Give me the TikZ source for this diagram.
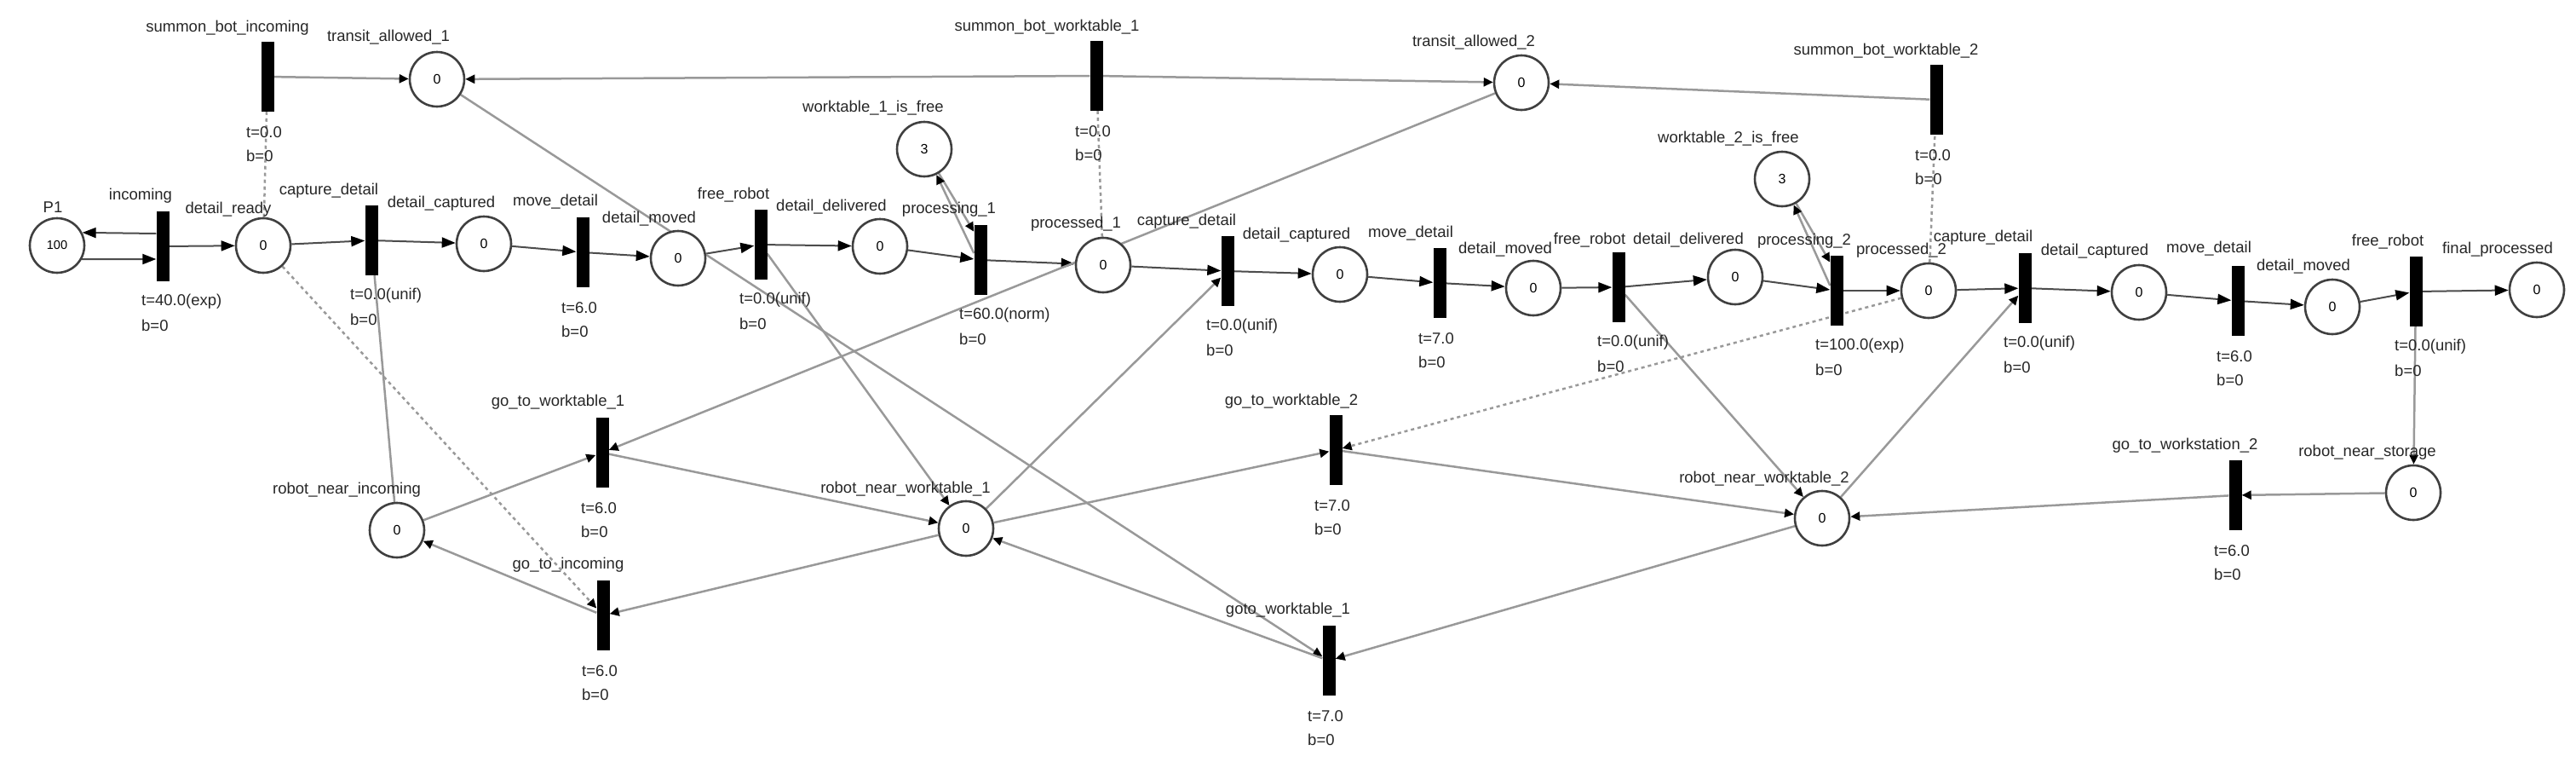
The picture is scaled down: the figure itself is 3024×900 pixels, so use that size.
\documentclass[tikz,border=0pt]{standalone}
\usepackage{fontspec}
\setmainfont{Liberation Sans}
\usetikzlibrary{arrows.meta}
\usetikzlibrary{backgrounds}
\tikzset{place/.style = {circle, draw=black!75, line width=2.6pt, fill=white, minimum size=64pt, inner sep=0, font=\fontsize{16}{16}\selectfont}}
\tikzset{trans/.style = {fill=black, minimum width=15pt, minimum height=82pt, inner sep=0}}
\tikzset{lbl/.style = {font=\fontsize{18.5}{18.5}\selectfont, text=black!85, inner sep=0}}
\tikzset{tinfo/.style = {lbl, anchor=west}}
\tikzset{timing/.style = {label={[tinfo,xshift=-25pt,yshift=-24pt]south:t=#1}, label={[tinfo,xshift=-25pt,yshift=-52pt]south:b=0}}}
\tikzset{chain/.style = {draw=black!70, line width=2pt, -{Triangle[length=16pt,width=12pt,color=black]}}}
\tikzset{arc/.style = {draw=black!40, line width=2.5pt, -{Triangle[length=11pt,width=10pt,color=black]}}}
\tikzset{test/.style = {draw=black!40, line width=2.5pt, dash pattern=on 4pt off 4pt}}
\begin{document}
\begin{tikzpicture}[x=1pt,y=-1pt]
    \useasboundingbox (0,0) rectangle (3024,900);
    \node[place, font=\fontsize{14.5}{14.5}\selectfont] (P1) at (67,288) {100};
    \node[lbl] (P1-l) at (62,243) {P1};
    \node[trans, timing=40.0(exp)] (incoming) at (191,289) {};
    \node[lbl] (incoming-l) at (165,230) {incoming};
    \node[place] (ready) at (309,288) {0};
    \node[lbl] (ready-l) at (268,246) {detail\_ready};
    \node[trans, timing=0.0(unif)] (capture1) at (436,282) {};
    \node[lbl] (capture1-l) at (386,224) {capture\_detail};
    \node[place] (captured1) at (568,286) {0};
    \node[lbl] (captured1-l) at (518,239) {detail\_captured};
    \node[trans, timing=6.0] (move1) at (684,296) {};
    \node[lbl] (move1-l) at (652,237) {move\_detail};
    \node[place] (moved1) at (796,303) {0};
    \node[lbl] (moved1-l) at (762,257) {detail\_moved};
    \node[trans, timing=0.0(unif)] (free1) at (893,287) {};
    \node[lbl] (free1-l) at (861,229) {free\_robot};
    \node[place] (delivered1) at (1033,289) {0};
    \node[lbl] (delivered1-l) at (976,243) {detail\_delivered};
    \node[trans, timing=60.0(norm)] (processing1) at (1151,305) {};
    \node[lbl] (processing1-l) at (1114,246) {processing\_1};
    \node[place] (processed1) at (1295,311) {0};
    \node[lbl] (processed1-l) at (1263,263) {processed\_1};
    \node[trans, timing=0.0(unif)] (capture2) at (1441,318) {};
    \node[lbl] (capture2-l) at (1393,260) {capture\_detail};
    \node[place] (captured2) at (1573,322) {0};
    \node[lbl] (captured2-l) at (1522,276) {detail\_captured};
    \node[trans, timing=7.0] (move2) at (1690,332) {};
    \node[lbl] (move2-l) at (1656,274) {move\_detail};
    \node[place] (moved2) at (1800,338) {0};
    \node[lbl] (moved2-l) at (1767,293) {detail\_moved};
    \node[trans, timing=0.0(unif)] (free2) at (1900,337) {};
    \node[lbl] (free2-l) at (1866,282) {free\_robot};
    \node[place] (delivered2) at (2037,325) {0};
    \node[lbl] (delivered2-l) at (1982,282) {detail\_delivered};
    \node[trans, timing=100.0(exp)] (processing2) at (2156,341) {};
    \node[lbl] (processing2-l) at (2118,283) {processing\_2};
    \node[place] (processed2) at (2264,341) {0};
    \node[lbl] (processed2-l) at (2232,294) {processed\_2};
    \node[trans, timing=0.0(unif)] (capture3) at (2377,338) {};
    \node[lbl] (capture3-l) at (2328,279) {capture\_detail};
    \node[place] (captured3) at (2511,343) {0};
    \node[lbl] (captured3-l) at (2459,295) {detail\_captured};
    \node[trans, timing=6.0] (move3) at (2627,353) {};
    \node[lbl] (move3-l) at (2593,292) {move\_detail};
    \node[place] (moved3) at (2738,360) {0};
    \node[lbl] (moved3-l) at (2704,313) {detail\_moved};
    \node[trans, timing=0.0(unif)] (free3) at (2836,342) {};
    \node[lbl] (free3-l) at (2803,284) {free\_robot};
    \node[place] (final) at (2978,340) {0};
    \node[lbl] (final-l) at (2932,293) {final\_processed};
    \node[trans, timing=0.0] (summonIn) at (314,90) {};
    \node[lbl] (summonIn-l) at (267,33) {summon\_bot\_incoming};
    \node[place] (allowed1) at (513,93) {0};
    \node[lbl] (allowed1-l) at (456,44) {transit\_allowed\_1};
    \node[trans, timing=0.0] (summonW1) at (1287,89) {};
    \node[lbl] (summonW1-l) at (1229,32) {summon\_bot\_worktable\_1};
    \node[place] (allowed2) at (1786,97) {0};
    \node[lbl] (allowed2-l) at (1730,50) {transit\_allowed\_2};
    \node[trans, timing=0.0] (summonW2) at (2273,117) {};
    \node[lbl] (summonW2-l) at (2214,60) {summon\_bot\_worktable\_2};
    \node[place] (wt1free) at (1085,175) {3};
    \node[lbl] (wt1free-l) at (1025,127) {worktable\_1\_is\_free};
    \node[place] (wt2free) at (2092,210) {3};
    \node[lbl] (wt2free-l) at (2029,163) {worktable\_2\_is\_free};
    \node[place] (nearIn) at (466,622) {0};
    \node[lbl] (nearIn-l) at (407,575) {robot\_near\_incoming};
    \node[trans, timing=6.0] (toW1) at (707,531) {};
    \node[lbl] (toW1-l) at (655,472) {go\_to\_worktable\_1};
    \node[trans, timing=6.0] (toIn) at (708,722) {};
    \node[lbl] (toIn-l) at (667,663) {go\_to\_incoming};
    \node[place] (nearW1) at (1134,620) {0};
    \node[lbl] (nearW1-l) at (1063,574) {robot\_near\_worktable\_1};
    \node[trans, timing=7.0] (toW2) at (1568,528) {};
    \node[lbl] (toW2-l) at (1516,471) {go\_to\_worktable\_2};
    \node[trans, timing=7.0] (gotoW1) at (1560,775) {};
    \node[lbl] (gotoW1-l) at (1512,716) {goto\_worktable\_1};
    \node[place] (nearW2) at (2139,608) {0};
    \node[lbl] (nearW2-l) at (2071,562) {robot\_near\_worktable\_2};
    \node[trans, timing=6.0] (toStation2) at (2624,581) {};
    \node[lbl] (toStation2-l) at (2565,523) {go\_to\_workstation\_2};
    \node[place] (nearStore) at (2833,578) {0};
    \node[lbl] (nearStore-l) at (2779,531) {robot\_near\_storage};
    \begin{scope}[on background layer]
        \draw[chain] (P1.331) -- ([yshift=-15pt]incoming.west);
        \draw[chain] ([yshift=15pt]incoming.west) -- (P1.27);
        \draw[chain] (incoming) -- (ready);
        \draw[chain] (ready) -- (capture1);
        \draw[chain] (capture1) -- (captured1);
        \draw[chain] (captured1) -- (move1);
        \draw[chain] (move1) -- (moved1);
        \draw[chain] (moved1) -- (free1);
        \draw[chain] (free1) -- (delivered1);
        \draw[chain] (delivered1) -- (processing1);
        \draw[chain] (processing1) -- (processed1);
        \draw[chain] (processed1) -- (capture2);
        \draw[chain] (capture2) -- (captured2);
        \draw[chain] (captured2) -- (move2);
        \draw[chain] (move2) -- (moved2);
        \draw[chain] (moved2) -- (free2);
        \draw[chain] (free2) -- (delivered2);
        \draw[chain] (delivered2) -- (processing2);
        \draw[chain] (processing2) -- (processed2);
        \draw[chain] (processed2) -- (capture3);
        \draw[chain] (capture3) -- (captured3);
        \draw[chain] (captured3) -- (move3);
        \draw[chain] (move3) -- (moved3);
        \draw[chain] (moved3) -- (free3);
        \draw[chain] (free3) -- (final);
        \draw[arc] (summonIn) -- (allowed1);
        \draw[arc] (summonW1) -- (allowed1);
        \draw[arc] (summonW1) -- (allowed2);
        \draw[arc] (summonW2) -- (allowed2);
        \draw[arc] (allowed1) -- (gotoW1);
        \draw[arc] (allowed2) -- (toW1);
        \draw[arc] (wt1free) -- ([yshift=-8pt]processing1.north west);
        \draw[arc] ([yshift=8pt]processing1.west) -- (wt1free);
        \draw[arc] (wt2free) -- ([yshift=-8pt]processing2.north west);
        \draw[arc] ([yshift=6pt]processing2.west) -- (wt2free);
        \draw[arc, -] (nearIn) -- (capture1);
        \draw[arc] (nearIn) -- (toW1);
        \draw[arc] (toW1) -- (nearW1);
        \draw[arc] (nearW1) -- (toIn);
        \draw[arc] (toIn) -- (nearIn);
        \draw[arc] (free1) -- (nearW1);
        \draw[arc] (nearW1) -- (capture2);
        \draw[arc] (nearW1) -- (toW2);
        \draw[arc] (toW2) -- (nearW2);
        \draw[arc] (free2) -- (nearW2);
        \draw[arc] (nearW2) -- (capture3);
        \draw[arc] (nearW2) -- (gotoW1);
        \draw[arc] (gotoW1) -- (nearW1);
        \draw[arc] (free3) -- (nearStore);
        \draw[arc] (nearStore) -- (toStation2);
        \draw[arc] (toStation2) -- (nearW2);
        \draw[test] (ready) -- (summonIn);
        \draw[test] (processed1) -- (summonW1);
        \draw[test] (processed2) -- (summonW2);
        \draw[test, -{Triangle[length=11pt,width=10pt,color=black]}] (ready) -- (toIn);
        \draw[test, -{Triangle[length=11pt,width=10pt,color=black]}] (processed2) -- (toW2);
    \end{scope}
\end{tikzpicture}
\end{document}
